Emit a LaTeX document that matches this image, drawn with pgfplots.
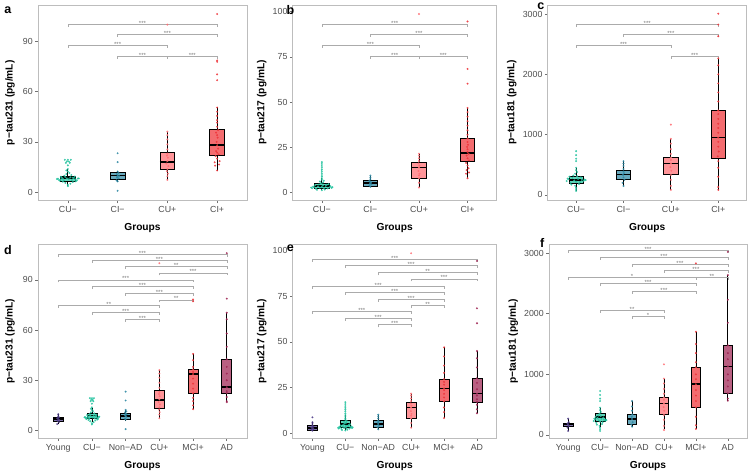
\documentclass[border=0pt]{standalone}
\usepackage{fontspec}
\setmainfont{Liberation Sans}
\usepackage{pgfplots}
\usepackage{pgfplotstable}
\pgfplotsset{compat=1.18}
\usepgfplotslibrary{statistics}

\definecolor{cYoung}{HTML}{4E3C88}
\definecolor{cCUn}{HTML}{22C29E}
\definecolor{cCIn}{HTML}{2C87A2}
\definecolor{cCUp}{HTML}{FF6C72}
\definecolor{cCIp}{HTML}{EE3338}
\definecolor{cAD}{HTML}{9E2352}
\definecolor{tickgray}{HTML}{4D4D4D}
\definecolor{framegray}{HTML}{BDBDBD}
\definecolor{brgray}{HTML}{ABABAB}
\definecolor{siggray}{HTML}{7A7A7A}

% ---------------- jitter points (dx from group centre, value) ----------------
\pgfplotstableread{
dx y
-0.20 8.0
-0.15 7.5
-0.12 8.5
-0.08 7.0
-0.05 9.0
-0.02 8.2
0.02 7.8
0.05 8.8
0.08 7.2
0.12 8.4
0.15 7.6
0.20 8.1
-0.18 7.2
0.18 7.0
-0.10 6.2
0.10 6.0
-0.05 5.5
0.05 5.0
0.00 4.3
0.00 3.6
-0.07 9.8
0.07 10.2
-0.03 10.8
0.03 11.5
0.00 12.3
-0.03 13.0
0.00 13.8
-0.04 17.5
0.04 17.5
-0.06 19.3
0.00 19.3
0.06 19.3
-0.02 18.3
0.02 18.3
0.00 16.0
-0.14 9.2
0.14 9.3
-0.16 6.8
0.16 6.5
-0.10 8.0
0.10 8.6
-0.22 7.8
0.22 8.2
}\tACUn
\pgfplotstableread{
dx y
0 0.8
-0.02 7.0
0.02 8.2
-0.01 9.1
0.03 9.6
0 10.1
-0.02 10.8
0.02 11.4
0 12.3
0 17.9
0 23.2
0 6.4
-0.01 8.7
}\tACIn
\pgfplotstableread{
dx y
0 7.3
0 9.5
0.01 11.0
-0.01 12.5
0 13.8
0.02 15.5
-0.02 17.0
0 18.5
0.01 20.5
-0.01 21.8
0 23.0
0 25.5
0 28.5
0 31.5
0 34.0
0 36.1
0 100.0
}\tACUp
\pgfplotstableread{
dx y
0 12.9
-0.04 15.8
0.04 16.5
-0.05 17.8
0.05 18.5
0 20.0
-0.03 21.5
0.03 22.5
0 23.5
-0.02 24.5
0.02 26.0
0 28.0
-0.01 30.0
0.01 32.5
0 34.0
-0.02 35.5
0.02 37.0
0 39.0
0 41.5
0 43.0
0 45.5
0 48.0
0 50.5
0 66.8
0 70.3
0 77.8
0 78.6
0 106.3
}\tACIp
\pgfplotstableread{
dx y
-0.03 3.8
0.02 5.0
-0.02 5.8
0.03 6.3
0 6.8
-0.03 7.3
0.02 7.8
0 8.5
0 9.7
}\tDY
\pgfplotstableread{
dx y
0 12.7
0 15.0
0 17.5
0 19.5
0 22.2
0 25.0
0 28.0
0 31.0
0 33.7
0 35.0
0 36.5
0 38.0
0 42.0
0 45.8
0 77.2
0 78.3
}\tDMCI
\pgfplotstableread{
dx y
0 16.9
0 17.5
0 20.0
0 22.4
0 23.5
0 25.8
0 30.0
0 34.0
0 38.0
0 42.6
0 50.0
0 58.0
0 66.5
0 70.4
0 78.8
0 106.0
}\tDAD
\pgfplotstableread{
dx y
-0.20 2.5
-0.16 3.0
-0.12 2.2
-0.08 3.5
-0.04 2.8
0.00 3.2
0.04 2.6
0.08 3.8
0.12 2.4
0.16 3.0
0.20 2.7
-0.14 4.2
-0.06 4.6
0.02 4.0
0.10 4.4
0.14 4.8
-0.10 1.6
0.00 1.4
0.06 1.8
-0.02 5.2
0.02 5.6
-0.04 6.2
0.04 6.6
0 7.2
0 8.0
0 8.9
0 9.8
0 10.8
0 11.9
0 12.8
0 13.8
0 14.8
0 15.9
0 16.9
-0.18 3.4
0.18 3.6
-0.22 2.9
0.22 3.1
}\tBCUn
\pgfplotstableread{
dx y
0 3.3
-0.02 4.0
0.02 4.6
-0.01 5.2
0.01 5.6
0 6.1
-0.02 6.6
0 7.5
0 8.5
0 9.5
}\tBCIn
\pgfplotstableread{
dx y
0 2.9
0 5.5
0 8.0
0 9.5
0.01 10.5
-0.01 12.0
0 13.9
0.01 15.0
-0.01 16.2
0 17.5
0 19.0
0 20.5
0 21.6
0 98.6
}\tBCUp
\pgfplotstableread{
dx y
0 8.0
-0.03 10.5
0.03 11.2
-0.02 12.5
0.02 13.5
0 15.0
-0.03 16.5
0.03 17.8
0 19.0
-0.02 20.5
0.02 21.5
0 22.5
0 24.0
-0.01 25.3
0.01 26.5
0 28.0
0 30.0
0 32.0
0 34.5
0 37.0
0 39.5
0 42.0
0 44.5
0 46.8
0 60.2
0 68.3
0 94.5
}\tBCIp
\pgfplotstableread{
dx y
0 1.3
-0.03 1.8
0.03 2.2
0 2.7
-0.03 3.0
0.03 3.5
0 4.0
0 5.0
0 5.9
0 8.6
}\tEY
\pgfplotstableread{
dx y
0 2.0
-0.02 3.1
0.02 4.0
0 4.9
-0.01 5.6
0.01 6.2
0 6.7
0 8.0
0 9.0
0 10.0
}\tENAD
\pgfplotstableread{
dx y
0 8.2
0 11.5
0 14.0
0 17.4
0 19.5
0 21.5
0 23.5
0 24.5
0 26.5
0 28.0
0 29.6
0 33.0
0 37.0
0 42.0
0 47.0
}\tEMCI
\pgfplotstableread{
dx y
0 10.8
0 13.0
0 15.5
0 17.0
0 18.5
0 20.5
0 21.6
0 24.0
0 27.5
0 30.0
0 36.0
0 41.0
0 45.0
0 60.2
0 68.4
0 94.4
}\tEAD
\pgfplotstableread{
dx y
-0.20 230
-0.16 260
-0.12 200
-0.08 280
-0.04 240
0.00 220
0.04 265
0.08 210
0.12 250
0.16 235
0.20 245
-0.14 300
-0.06 320
0.02 310
0.10 290
-0.10 170
-0.02 150
0.06 180
0 120
0 66
0 95
-0.02 350
0.02 380
0 410
0 450
0 560
0 600
0 660
0 725
-0.18 270
0.18 255
}\tCCUn
\pgfplotstableread{
dx y
0 148
-0.02 200
0.02 250
0 290
-0.01 330
0.01 360
0 390
0 430
0 480
0 520
0 560
}\tCCIn
\pgfplotstableread{
dx y
0 82
0 150
0 250
0 330
0.01 400
-0.01 460
0 520
0 580
0 620
0 680
0 760
0 850
0 930
0 1165
}\tCCUp
\pgfplotstableread{
dx y
0 82
0 130
0 300
0 450
0 560
-0.01 640
0.01 720
0 800
0 880
0 950
0 1030
0 1110
0 1180
0 1260
0 1340
0 1400
0 1550
0 1700
0 1850
0 2000
0 2150
0 2265
0 2632
0 2825
0 3006
}\tCCIp
\pgfplotstableread{
dx y
0 66
-0.02 120
0.02 150
0 170
-0.02 190
0.02 210
0 269
}\tFY
\pgfplotstableread{
dx y
0 137
-0.02 170
0.02 210
0 264
-0.01 300
0.01 340
0 400
0 470
0 560
}\tFNAD
\pgfplotstableread{
dx y
0 99
0 160
0 300
0 457
0 560
0 650
0 740
0 836
0 920
0 1000
0 1116
0 1200
0 1350
0 1500
0 1703
0 2830
}\tFMCI
\pgfplotstableread{
dx y
0 565
0 600
0 687
0 800
0 900
0 1000
0 1132
0 1250
0 1350
0 1478
0 1850
0 2230
0 2637
0 3021
}\tFAD

\tikzset{
  sig/.style={font=\fontsize{6}{6}\selectfont, text=siggray, anchor=base, inner sep=0pt, yshift=-1pt},
  letter/.style={font=\bfseries\fontsize{12.5}{12.5}\selectfont, anchor=center, inner sep=0pt},
}
\pgfplotsset{
  panel/.style={
    scale only axis, anchor=north west, clip=false,
    axis line style={draw=framegray, line width=0.8pt},
    every tick/.style={draw=tickgray!80, line width=0.6pt},
    tick align=outside, major tick length=2.8pt,
    xtick pos=bottom, ytick pos=left,
    tick label style={font=\fontsize{8.8}{9}\selectfont, text=tickgray},
    yticklabel style={inner sep=2.3pt},
    /pgf/number format/assume math mode=true,
    scaled y ticks=false,
    yticklabel style={/pgf/number format/1000 sep={}},
    xlabel={Groups},
    label style={font=\bfseries\fontsize{10.2}{11}\selectfont},
    xlabel style={at={(axis description cs:0.5,0)}, anchor=center, yshift=-27.5pt},
    ylabel style={anchor=center},
    boxplot/draw direction=y,
    boxplot/every median/.style={line width=1.6pt},
    boxplot/every whisker/.style={line width=0.8pt},
  },
  pt/.style={only marks, mark=*, mark size=0.8pt, color=#1, opacity=0.75},
  brk/.style={draw=brgray, line width=0.5pt, mark=none},
}

% box: position, lower whisker, q1, median, q3, upper whisker, colour
\newcommand{\bx}[7]{%
  \addplot[boxplot prepared={draw position=#1, lower whisker=#2, lower quartile=#3,
     median=#4, upper quartile=#5, upper whisker=#6, box extend=0.3, whisker extend=0},
     draw=black, line width=0.7pt, fill=#7, fill opacity=0.72] coordinates {};}
% bracket: x1, x2, y, tip length, label
\newcommand{\br}[5]{%
  \pgfmathsetmacro{\bty}{#3-#4}%
  \pgfmathsetmacro{\bmx}{(#1+#2)/2}%
  \edef\brtmp{\noexpand\addplot[brk] coordinates {(#1,\bty) (#1,#3) (#2,#3) (#2,\bty)};%
    \noexpand\node[sig] at (axis cs:\bmx,#3) {#5};}%
  \brtmp}

\begin{document}
\begin{tikzpicture}
\path[use as bounding box] (0,0) rectangle (750pt,475pt);

% ---------------- a ----------------
\begin{axis}[panel, at={(38pt,470pt)}, width=209pt, height=195.5pt,
  xmin=0.4, xmax=4.6, ymin=-5, ymax=111.7,
  xtick={1,2,3,4}, xticklabels={CU−,CI−,CU+,CI+}, ytick={0,30,60,90},
  ylabel={p−tau231 (pg/mL)}, ylabel style={at={(axis description cs:-0.134,0.5)}}]
\addplot[pt=cCUn] table[x expr=\thisrow{dx}+1, y=y] {\tACUn};
\addplot[pt=cCIn] table[x expr=\thisrow{dx}+2, y=y] {\tACIn};
\addplot[pt=cCUp] table[x expr=\thisrow{dx}+3, y=y] {\tACUp};
\addplot[pt=cCIp] table[x expr=\thisrow{dx}+4, y=y] {\tACIp};
\bx{1}{3.8}{6.7}{8.3}{9.7}{13.7}{cCUn}
\bx{2}{6.3}{7.8}{9.9}{11.7}{12.5}{cCIn}
\bx{3}{7.3}{13.5}{18.1}{23.9}{36.1}{cCUp}
\bx{4}{12.9}{22.2}{28.2}{37.3}{50.7}{cCIp}
\br{1}{4}{100.2}{1.5}{***}
\br{2}{4}{94.2}{1.5}{***}
\br{1}{3}{87.7}{1.5}{***}
\br{2}{3}{81.1}{1.5}{***}
\br{3}{4}{81.1}{1.5}{***}
\node[letter] at (axis description cs:-0.144,0.974) {a};
\end{axis}

% ---------------- b ----------------
\begin{axis}[panel, at={(292.7pt,470pt)}, width=204pt, height=195pt,
  xmin=0.4, xmax=4.6, ymin=-4, ymax=103.6,
  xtick={1,2,3,4}, xticklabels={CU−,CI−,CU+,CI+}, ytick={0,25,50,75,100},
  ylabel={p−tau217 (pg/mL)}, ylabel style={at={(axis description cs:-0.152,0.5)}}]
\addplot[pt=cCUn] table[x expr=\thisrow{dx}+1, y=y] {\tBCUn};
\addplot[pt=cCIn] table[x expr=\thisrow{dx}+2, y=y] {\tBCIn};
\addplot[pt=cCUp] table[x expr=\thisrow{dx}+3, y=y] {\tBCUp};
\addplot[pt=cCIp] table[x expr=\thisrow{dx}+4, y=y] {\tBCIp};
\bx{1}{1.4}{2.2}{3.6}{5.1}{8.0}{cCUn}
\bx{2}{3.3}{3.6}{5.3}{6.6}{9.5}{cCIn}
\bx{3}{2.9}{8.0}{13.9}{16.7}{21.6}{cCUp}
\bx{4}{8.0}{17.1}{22.0}{29.9}{46.8}{cCIp}
\br{1}{4}{93.0}{1.4}{***}
\br{2}{4}{87.5}{1.4}{***}
\br{1}{3}{81.5}{1.4}{***}
\br{2}{3}{75.4}{1.4}{***}
\br{3}{4}{75.4}{1.4}{***}
\node[letter] at (axis description cs:-0.011,0.972) {b};
\end{axis}

% ---------------- c ----------------
\begin{axis}[panel, at={(547.7pt,470pt)}, width=199pt, height=195pt,
  xmin=0.4, xmax=4.6, ymin=-85, ymax=3150,
  xtick={1,2,3,4}, xticklabels={CU−,CI−,CU+,CI+}, ytick={0,1000,2000,3000},
  ylabel={p−tau181 (pg/mL)}, ylabel style={at={(axis description cs:-0.181,0.5)}}]
\addplot[pt=cCUn] table[x expr=\thisrow{dx}+1, y=y] {\tCCUn};
\addplot[pt=cCIn] table[x expr=\thisrow{dx}+2, y=y] {\tCCIn};
\addplot[pt=cCUp] table[x expr=\thisrow{dx}+3, y=y] {\tCCUp};
\addplot[pt=cCIp] table[x expr=\thisrow{dx}+4, y=y] {\tCCIp};
\bx{1}{66}{188}{247}{303}{452}{cCUn}
\bx{2}{148}{259}{336}{412}{560}{cCIn}
\bx{3}{82}{336}{522}{621}{930}{cCUp}
\bx{4}{82}{610}{951}{1401}{2265}{cCIp}
\br{1}{4}{2825}{42}{***}
\br{2}{4}{2660}{42}{***}
\br{1}{3}{2479}{42}{***}
\br{3}{4}{2298}{42}{***}
\node[letter] at (axis description cs:-0.034,0.996) {c};
\end{axis}

% ---------------- d ----------------
\begin{axis}[panel, at={(38pt,230.7pt)}, width=209pt, height=194pt,
  xmin=0.4, xmax=6.6, ymin=-4.7, ymax=111.3,
  xtick={1,...,6}, xticklabels={Young,CU−,Non−AD,CU+,MCI+,AD}, ytick={0,30,60,90},
  ylabel={p−tau231 (pg/mL)}, ylabel style={at={(axis description cs:-0.134,0.5)}}]
\addplot[pt=cYoung] table[x expr=\thisrow{dx}+1, y=y] {\tDY};
\addplot[pt=cCUn] table[x expr=\thisrow{dx}+2, y=y] {\tACUn};
\addplot[pt=cCIn] table[x expr=\thisrow{dx}+3, y=y] {\tACIn};
\addplot[pt=cCUp] table[x expr=\thisrow{dx}+4, y=y] {\tACUp};
\addplot[pt=cCIp] table[x expr=\thisrow{dx}+5, y=y] {\tDMCI};
\addplot[pt=cAD] table[x expr=\thisrow{dx}+6, y=y] {\tDAD};
\bx{1}{3.8}{5.6}{6.8}{8.0}{9.7}{cYoung}
\bx{2}{5.0}{7.0}{8.9}{10.5}{13.3}{cCUn}
\bx{3}{5.4}{6.5}{8.6}{10.5}{12.1}{cCIn}
\bx{4}{7.3}{13.5}{18.1}{23.9}{36.1}{cCUp}
\bx{5}{12.7}{22.2}{33.7}{36.7}{45.8}{cCIp}
\bx{6}{16.9}{22.4}{25.8}{42.6}{70.4}{cAD}
\br{1}{6}{105.5}{1.5}{***}
\br{2}{6}{101.9}{1.5}{***}
\br{3}{6}{97.9}{1.5}{**}
\br{4}{6}{94.2}{1.5}{***}
\br{1}{5}{90.0}{1.5}{***}
\br{2}{5}{86.0}{1.5}{***}
\br{3}{5}{81.9}{1.5}{***}
\br{4}{5}{78.1}{1.5}{**}
\br{1}{4}{74.6}{1.5}{**}
\br{2}{4}{70.4}{1.5}{***}
\br{3}{4}{66.6}{1.5}{***}
\node[letter] at (axis description cs:-0.144,0.971) {d};
\end{axis}

% ---------------- e ----------------
\begin{axis}[panel, at={(292.7pt,230.7pt)}, width=204pt, height=194pt,
  xmin=0.4, xmax=6.6, ymin=-2.9, ymax=103.5,
  xtick={1,...,6}, xticklabels={Young,CU−,Non−AD,CU+,MCI+,AD}, ytick={0,25,50,75,100},
  ylabel={p−tau217 (pg/mL)}, ylabel style={at={(axis description cs:-0.152,0.5)}}]
\addplot[pt=cYoung] table[x expr=\thisrow{dx}+1, y=y] {\tEY};
\addplot[pt=cCUn] table[x expr=\thisrow{dx}+2, y=y] {\tBCUn};
\addplot[pt=cCIn] table[x expr=\thisrow{dx}+3, y=y] {\tENAD};
\addplot[pt=cCUp] table[x expr=\thisrow{dx}+4, y=y] {\tBCUp};
\addplot[pt=cCIp] table[x expr=\thisrow{dx}+5, y=y] {\tEMCI};
\addplot[pt=cAD] table[x expr=\thisrow{dx}+6, y=y] {\tEAD};
\bx{1}{1.3}{1.6}{2.7}{4.0}{5.9}{cYoung}
\bx{2}{1.6}{3.1}{5.1}{7.0}{9.9}{cCUn}
\bx{3}{2.0}{3.1}{4.9}{6.7}{10.0}{cCIn}
\bx{4}{2.9}{8.0}{13.9}{16.7}{21.6}{cCUp}
\bx{5}{8.2}{17.4}{24.5}{29.6}{47.0}{cCIp}
\bx{6}{10.8}{17.0}{21.6}{30.0}{45.0}{cAD}
\br{1}{6}{95.4}{1.4}{***}
\br{2}{6}{91.8}{1.4}{***}
\br{3}{6}{87.9}{1.4}{**}
\br{4}{6}{84.5}{1.4}{***}
\br{1}{5}{80.6}{1.4}{***}
\br{2}{5}{77.2}{1.4}{***}
\br{3}{5}{73.3}{1.4}{***}
\br{4}{5}{69.8}{1.4}{**}
\br{1}{4}{66.6}{1.4}{***}
\br{2}{4}{62.9}{1.4}{***}
\br{3}{4}{59.4}{1.4}{***}
\node[letter] at (axis description cs:-0.011,0.978) {e};
\end{axis}

% ---------------- f ----------------
\begin{axis}[panel, at={(549pt,230.7pt)}, width=198pt, height=194pt,
  xmin=0.4, xmax=6.6, ymin=-55, ymax=3145,
  xtick={1,...,6}, xticklabels={Young,CU−,Non−AD,CU+,MCI+,AD}, ytick={0,1000,2000,3000},
  ylabel={p−tau181 (pg/mL)}, ylabel style={at={(axis description cs:-0.180,0.5)}}]
\addplot[pt=cYoung] table[x expr=\thisrow{dx}+1, y=y] {\tFY};
\addplot[pt=cCUn] table[x expr=\thisrow{dx}+2, y=y] {\tCCUn};
\addplot[pt=cCIn] table[x expr=\thisrow{dx}+3, y=y] {\tFNAD};
\addplot[pt=cCUp] table[x expr=\thisrow{dx}+4, y=y] {\tCCUp};
\addplot[pt=cCIp] table[x expr=\thisrow{dx}+5, y=y] {\tFMCI};
\addplot[pt=cAD] table[x expr=\thisrow{dx}+6, y=y] {\tFAD};
\bx{1}{66}{137}{170}{198}{269}{cYoung}
\bx{2}{127}{219}{292}{351}{450}{cCUn}
\bx{3}{137}{176}{264}{341}{560}{cCIn}
\bx{4}{94}{341}{522}{621}{928}{cCUp}
\bx{5}{99}{457}{836}{1116}{1703}{cCIp}
\bx{6}{565}{687}{1132}{1478}{2637}{cAD}
\br{1}{6}{3044}{42}{***}
\br{2}{6}{2934}{42}{***}
\br{3}{6}{2819}{42}{***}
\br{4}{6}{2714}{42}{***}
\br{1}{5}{2599}{42}{*}
\br{5}{6}{2599}{42}{**}
\br{2}{5}{2495}{42}{***}
\br{3}{5}{2374}{42}{***}
\br{2}{4}{2060}{42}{**}
\br{3}{4}{1962}{42}{*}
\node[letter] at (axis description cs:-0.034,1.005) {f};
\end{axis}
\end{tikzpicture}
\end{document}
